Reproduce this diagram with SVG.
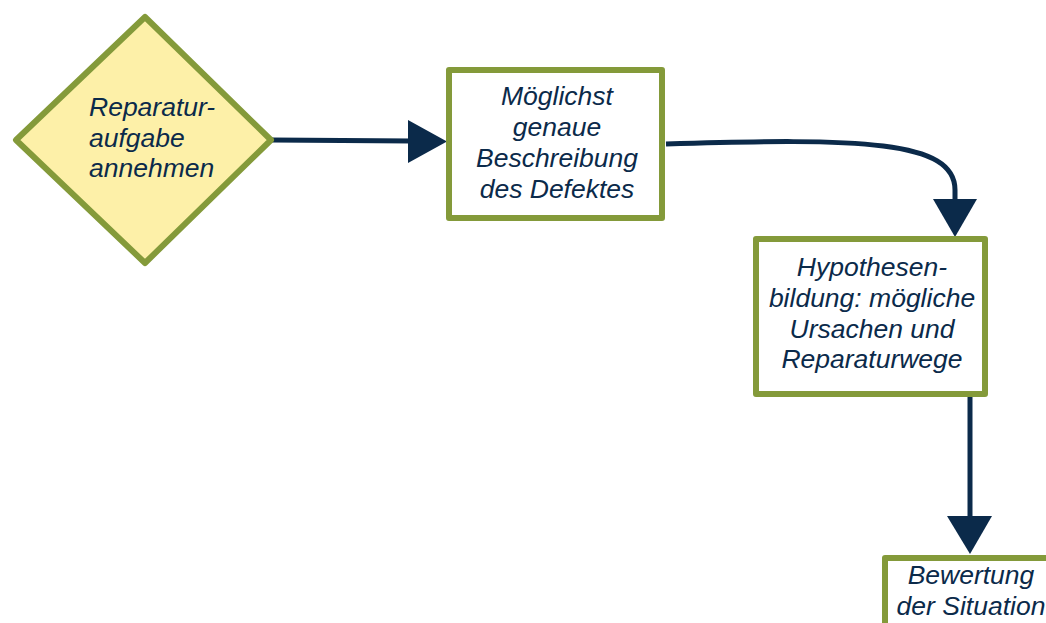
<svg xmlns="http://www.w3.org/2000/svg" width="1046" height="623" viewBox="0 0 1046 623">
  <style>
    .node { stroke: #849a3a; stroke-width: 6; stroke-linejoin: round; }
    .box { fill: #ffffff; }
    .decision { fill: #fdf0a8; }
    .label { font-family: "Liberation Sans", Arial, sans-serif; font-style: italic; font-size: 26.5px; fill: #0b2a4a; }
    .mid { text-anchor: middle; }
    .conn { fill: none; stroke: #0b2a4a; stroke-width: 5; }
    .head { fill: #0b2a4a; }
  </style>
  <rect width="1046" height="623" fill="#ffffff"/>

  <g id="connectors">
    <path class="conn" d="M272,140 L412,141"/>
    <polygon class="head" points="408,120 447,141.5 408,163"/>
    <path class="conn" d="M666,144 C860,138 955,140 955,190 L955,204"/>
    <polygon class="head" points="933,199 977,199 955,237"/>
    <path class="conn" d="M970,396 L970,520"/>
    <polygon class="head" points="947,516 992,516 970,554"/>
  </g>

  <g id="node-reparaturaufgabe">
    <polygon class="node decision" points="145,17 271,140 145,263 16,140"/>
    <text class="label" x="89" y="116">Reparatur-</text>
    <text class="label" x="89" y="147">aufgabe</text>
    <text class="label" x="89" y="177">annehmen</text>
  </g>

  <g id="node-beschreibung">
    <rect class="node box" x="449" y="70" width="213" height="148"/>
    <text class="label mid" x="557" y="105">Möglichst</text>
    <text class="label mid" x="557" y="136">genaue</text>
    <text class="label mid" x="557" y="167">Beschreibung</text>
    <text class="label mid" x="557" y="198">des Defektes</text>
  </g>

  <g id="node-hypothesen">
    <rect class="node box" x="756" y="239" width="229" height="155"/>
    <text class="label mid" x="872" y="276">Hypothesen-</text>
    <text class="label mid" x="872" y="307">bildung: mögliche</text>
    <text class="label mid" x="872" y="338">Ursachen und</text>
    <text class="label mid" x="872" y="368">Reparaturwege</text>
  </g>

  <g id="node-bewertung">
    <rect class="node box" x="885" y="558" width="200" height="100"/>
    <text class="label mid" x="971" y="584">Bewertung</text>
    <text class="label mid" x="971" y="615">der Situation</text>
  </g>
</svg>
